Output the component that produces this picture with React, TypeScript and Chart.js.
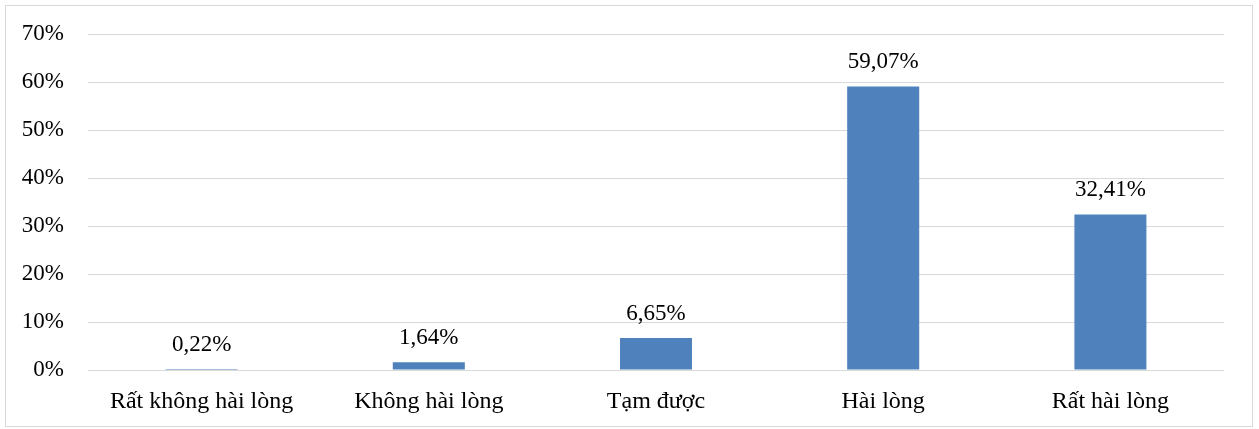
import React, { useEffect, useRef } from "react";
import { Chart, registerables } from "chart.js";

Chart.register(...registerables);

const categories = ["Rất không hài lòng", "Không hài lòng", "Tạm được", "Hài lòng", "Rất hài lòng"];
const values = [0.22, 1.64, 6.65, 59.07, 32.41];
const yTicks = [0, 10, 20, 30, 40, 50, 60, 70];

const FONT = "'Liberation Serif', 'Times New Roman', serif";
const BAR = "#4F81BD";
const GRID = "#D9D9D9";
const PLOT_TOP = 28;

const labelPlugin = {
  id: "barLabels",
  afterLayout(chart: any) {
    const y = chart.scales.y;
    const area = chart.chartArea;
    y.top = PLOT_TOP;
    y.height = y.bottom - y.top;
    area.top = PLOT_TOP;
    area.height = area.bottom - area.top;
    y.configure();
  },
  afterDatasetsDraw(chart: any) {
    const ctx = chart.ctx;
    const meta = chart.getDatasetMeta(0);
    ctx.save();
    ctx.font = `23px ${FONT}`;
    ctx.fillStyle = "#000";
    ctx.textAlign = "center";
    ctx.textBaseline = "alphabetic";
    meta.data.forEach((bar: any, i: number) => {
      const txt = values[i].toFixed(2).replace(".", ",") + "%";
      ctx.fillText(txt, bar.x, bar.y - 18);
    });
    ctx.restore();
  },
};

export default function App() {
  const ref = useRef<HTMLCanvasElement>(null);
  useEffect(() => {
    document.body.style.margin = "0";
    const chart = new Chart(ref.current!, {
      type: "bar",
      data: {
        labels: categories,
        datasets: [
          {
            data: values,
            backgroundColor: BAR,
            barPercentage: 0.317,
            categoryPercentage: 1,
          },
        ],
      },
      options: {
        animation: false,
        responsive: false,
        devicePixelRatio: 1,
        layout: { padding: { left: 0, right: 28, top: 20, bottom: 0 } },
        plugins: { legend: { display: false }, tooltip: { enabled: false } },
        scales: {
          x: {
            grid: { display: false, drawTicks: false },
            border: { display: false },
            ticks: { color: "#000", font: { family: FONT, size: 24 }, padding: 17, maxRotation: 0 },
            afterFit: (s: any) => {
              s.height = 56;
            },
          },
          y: {
            min: 0,
            max: 70,
            afterBuildTicks: (s: any) => {
              s.ticks = yTicks.map((v) => ({ value: v }));
            },
            grid: { color: GRID, lineWidth: 1, drawTicks: false },
            border: { display: false },
            ticks: {
              color: "#000",
              font: { family: FONT, size: 23 },
              padding: 24,
              callback: (v: any) => v + "%",
            },
            afterFit: (s: any) => {
              s.width = 82;
            },
          },
        },
      },
      plugins: [labelPlugin],
    });
    return () => chart.destroy();
  }, []);
  return (
    <div
      style={{
        position: "absolute",
        left: 5,
        top: 5,
        width: 1248,
        height: 422,
        border: `1px solid ${GRID}`,
        boxSizing: "border-box",
        background: "#fff",
      }}
    >
      <canvas ref={ref} width={1246} height={420} style={{ display: "block", width: 1246, height: 420 }} />
    </div>
  );
}
